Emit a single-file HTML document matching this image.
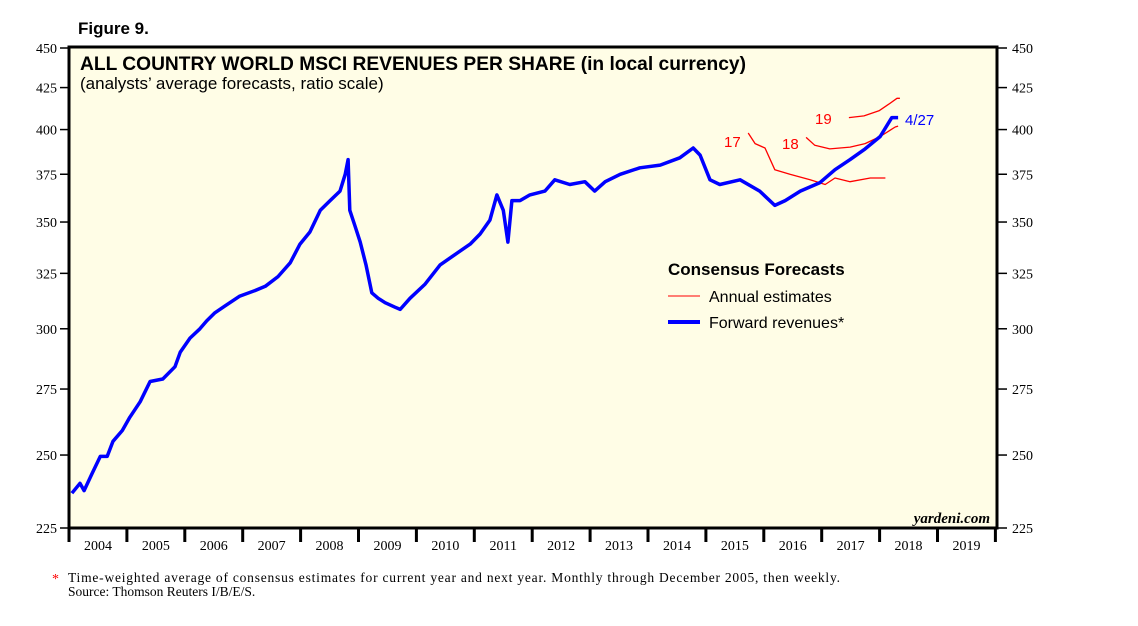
<!DOCTYPE html>
<html><head><meta charset="utf-8"><style>
html,body{margin:0;padding:0;background:#fff;}
svg text{font-family:"Liberation Sans",sans-serif;}
.serif{font-family:"Liberation Serif",serif;}
</style></head><body>
<svg width="1138" height="621" viewBox="0 0 1138 621" xmlns="http://www.w3.org/2000/svg">
<text x="78" y="34" font-size="17" font-weight="bold">Figure 9.</text>
<rect x="69" y="47" width="928" height="481" fill="#fffde6" stroke="#000" stroke-width="3"/>
<text x="80" y="70" font-size="19.2" font-weight="bold">ALL COUNTRY WORLD MSCI REVENUES PER SHARE (in local currency)</text>
<text x="80" y="89" font-size="17">(analysts’ average forecasts, ratio scale)</text>
<g id="axes"></g>
<g id="series"></g>
<text x="724" y="147" font-size="15" fill="#f00">17</text>
<text x="782" y="149" font-size="15" fill="#f00">18</text>
<text x="815" y="124" font-size="15" fill="#f00">19</text>
<text x="905" y="125" font-size="15" fill="#00f">4/27</text>
<g>
<text x="668" y="275" font-size="17" font-weight="bold">Consensus Forecasts</text>
<line x1="668" y1="296" x2="700" y2="296" stroke="#f00" stroke-width="1"/>
<text x="709" y="302" font-size="16">Annual estimates</text>
<line x1="668" y1="322" x2="700" y2="322" stroke="#00f" stroke-width="4"/>
<text x="709" y="328" font-size="16">Forward revenues*</text>
</g>
<text x="990" y="523" font-size="15" font-style="italic" font-weight="bold" text-anchor="end" class="serif">yardeni.com</text>
<text x="52" y="583" font-size="14" fill="#f00" class="serif">*</text>
<text x="68" y="582" font-size="13.5" class="serif" textLength="772" lengthAdjust="spacing">Time-weighted average of consensus estimates for current year and next year. Monthly through December 2005, then weekly.</text>
<text x="68" y="596" font-size="13.5" class="serif">Source: Thomson Reuters I/B/E/S.</text>
</svg>
<script>
const yTicks=[225,250,275,300,325,350,375,400,425,450];
const years=[2004,2005,2006,2007,2008,2009,2010,2011,2012,2013,2014,2015,2016,2017,2018,2019];
const fwdT=[2004.05,2004.19,2004.26,2004.40,2004.54,2004.66,2004.76,2004.92,2005.05,2005.23,2005.40,2005.62,2005.83,2005.92,2006.09,2006.26,2006.38,2006.52,2006.69,2006.95,2007.21,2007.39,2007.61,2007.82,2007.99,2008.16,2008.34,2008.51,2008.68,2008.77,2008.82,2008.85,2008.94,2009.03,2009.13,2009.23,2009.34,2009.46,2009.63,2009.72,2009.89,2010.15,2010.41,2010.67,2010.93,2011.10,2011.27,2011.39,2011.50,2011.58,2011.65,2011.79,2011.96,2012.22,2012.39,2012.65,2012.91,2013.08,2013.26,2013.52,2013.86,2014.21,2014.55,2014.78,2014.90,2015.07,2015.24,2015.59,2015.93,2016.19,2016.37,2016.63,2016.97,2017.23,2017.49,2017.75,2018.01,2018.21,2018.32];
const fwdV=[236.6,240,237.5,243.5,249.5,249.5,255,259,264,270,278,279,284,290,296,300,303.5,307,310,314.5,317,319,323.5,330,339,345,356,361,366,375,383,356,348,340,329,316,313.5,311.5,309.5,308.5,313.5,320,329,334,339,344,351,364,356,340,361,361,364,366,372,369.5,371,366,371,375,378.5,380,384,389.5,385.5,372,369.5,372,366,358.5,361,366,370.5,377.5,383,389,396,407,407];
const e17T=[2015.73,2015.85,2016.02,2016.19,2016.45,2016.80,2017.06,2017.23,2017.49,2017.84,2018.10];
const e17V=[398,392,389.5,377.5,375,372,369.5,373,371,373,373];
const e18T=[2016.73,2016.88,2017.14,2017.49,2017.75,2018.01,2018.27,2018.32];
const e18V=[395.5,391,389,390,392,396,401.5,402];
const e19T=[2017.47,2017.73,2017.99,2018.16,2018.30,2018.35];
const e19V=[407,408,411,415,418.5,418.5];
const NS='http://www.w3.org/2000/svg';
const X0=69,YW=57.9,YB=528,YH=480;
const xs=t=>X0+(t-2004)*YW;
const ys=v=>YB-YH*Math.log2(v/225);
function mk(tag,attrs,parent){const e=document.createElementNS(NS,tag);for(const k in attrs)e.setAttribute(k,attrs[k]);parent.appendChild(e);return e;}
const ax=document.getElementById('axes');
yTicks.forEach(v=>{const y=ys(v);
 let l=mk('line',{x1:60,x2:69,y1:y,y2:y,stroke:'#000','stroke-width':1.5},ax);
 
 
 let r=mk('line',{x1:997,x2:1007,y1:y,y2:y,stroke:'#000','stroke-width':1.5},ax);
 
 
 let t=mk('text',{x:57,y:y+5,'font-size':14,'text-anchor':'end',class:'serif'},ax);t.textContent=v;
 
 
 let t2=mk('text',{x:1012,y:y+5,'font-size':14,class:'serif'},ax);t2.textContent=v;
 
 
});
years.concat([2020]).forEach(yr=>{const x=xs(yr);
 let l=mk('line',{x1:x,x2:x,y1:528,y2:542,stroke:'#000','stroke-width':3},ax);
 
 
});
years.forEach(yr=>{
 let t=mk('text',{x:xs(yr+0.5),y:550,'font-size':14,'text-anchor':'middle',class:'serif'},ax);t.textContent=yr;
 
 
});
const sg=document.getElementById('series');
function line(T,V,color,w,name){const d=T.map((t,i)=>(i?'L':'M')+xs(t).toFixed(1)+','+ys(V[i]).toFixed(1)).join('');
 const p=mk('path',{d:d,fill:'none',stroke:color,'stroke-width':w,'stroke-linejoin':'round'},sg);
 
 }
line(e17T,e17V,'#f00',1.3,'annual-estimate-2017');
line(e18T,e18V,'#f00',1.3,'annual-estimate-2018');
line(e19T,e19V,'#f00',1.3,'annual-estimate-2019');
line(fwdT,fwdV,'#00f',3.5,'forward-revenues-line');
</script>
</body></html>
